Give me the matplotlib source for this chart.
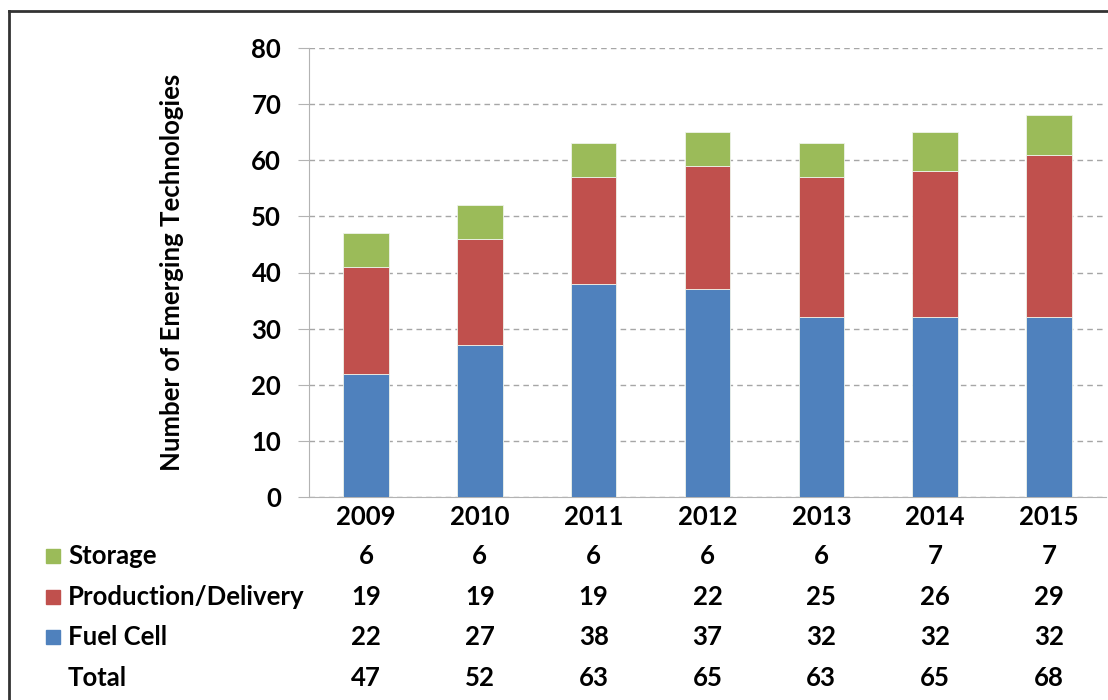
import matplotlib.pyplot as plt
import matplotlib.transforms as mtransforms
from matplotlib.patches import Rectangle
from matplotlib.lines import Line2D
import numpy as np

plt.rcParams['font.family'] = ['Lato', 'DejaVu Sans']
plt.rcParams['font.weight'] = 'bold'
plt.rcParams['axes.labelweight'] = 'bold'

years = ['2009', '2010', '2011', '2012', '2013', '2014', '2015']
fuel_cell = [22, 27, 38, 37, 32, 32, 32]
production = [19, 19, 19, 22, 25, 26, 29]
storage = [6, 6, 6, 6, 6, 7, 7]
totals = [47, 52, 63, 65, 63, 65, 68]

c_blue = '#4F81BD'
c_red = '#C0504D'
c_green = '#9BBB59'
fs = 18.5

W, H = 1108, 700
fig = plt.figure(figsize=(W / 100, H / 100), dpi=100)
ax = fig.add_axes([309 / W, 1 - 497 / H, (1106 - 309) / W, (497 - 48) / H])

x = np.arange(len(years))
fc = np.array(fuel_cell)
pr = np.array(production)
st = np.array(storage)
kw = dict(width=0.4, edgecolor='#eef3ea', linewidth=0.6, zorder=3)
ax.bar(x, fc, color=c_blue, **kw)
ax.bar(x, pr, bottom=fc, color=c_red, **kw)
ax.bar(x, st, bottom=fc + pr, color=c_green, **kw)

ax.set_xlim(-0.5, len(years) - 0.5)
ax.set_ylim(0, 80)
ax.set_yticks(range(0, 81, 10))
ax.set_xticks(x)
ax.set_xticklabels(years)
ax.grid(axis='y', linestyle=(0, (4, 3)), color='#a6a6a6', linewidth=1.0, zorder=0)
for s in ['top', 'right']:
    ax.spines[s].set_visible(False)
ax.spines['left'].set_color('#b3b3b3')
ax.spines['bottom'].set_color('#b3b3b3')
ax.tick_params(axis='y', length=8, color='#b3b3b3', labelsize=fs, pad=12)
ax.tick_params(axis='x', length=0, labelsize=fs, pad=6)
ax.set_ylabel('Number of Emerging Technologies', fontsize=fs)
ax.yaxis.set_label_coords((184 - 309) / 797, 0.5)

# data table below the chart
rows = [('Storage', c_green, storage),
        ('Production/Delivery', c_red, production),
        ('Fuel Cell', c_blue, fuel_cell),
        ('Total', None, totals)]
row_y = [556, 597, 637, 678]
trans = mtransforms.blended_transform_factory(ax.transData, fig.transFigure)
for (name, col, vals), py in zip(rows, row_y):
    fy = 1 - py / H
    if col is not None:
        fig.patches.append(Rectangle((46 / W, fy - 7 / H), 14 / W, 14 / H,
                                     color=col, transform=fig.transFigure))
    fig.text(68 / W, fy, name, fontsize=fs, va='center', ha='left')
    for xi, v in zip(x, vals):
        ax.text(xi, fy, str(v), transform=trans, fontsize=fs,
                va='center', ha='center', clip_on=False)

# outer frame (top and left edges)
fig.add_artist(Line2D([9 / W, 9 / W], [0, 1 - 11 / H], color='#333333',
                      linewidth=2, transform=fig.transFigure))
fig.add_artist(Line2D([9 / W, 1], [1 - 11 / H, 1 - 11 / H], color='#333333',
                      linewidth=2, transform=fig.transFigure))

fig.savefig('out.png', dpi=100)
